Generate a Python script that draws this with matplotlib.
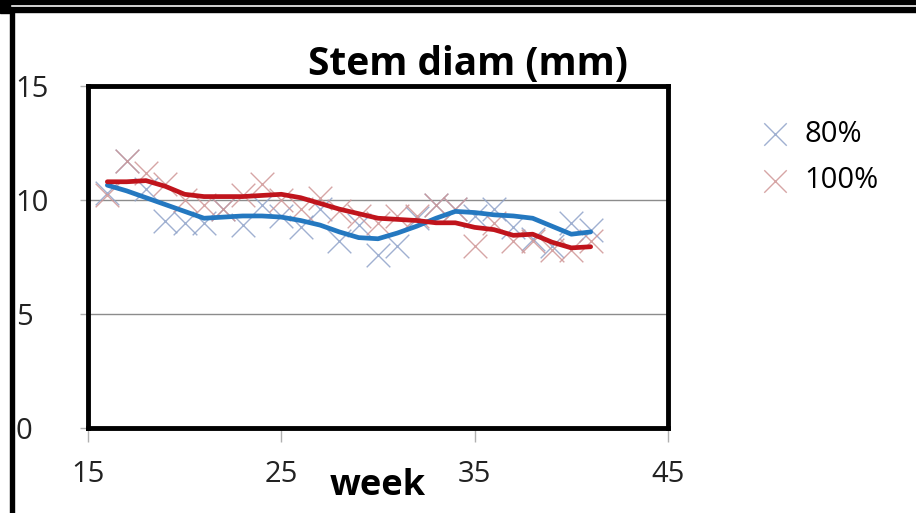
import matplotlib
matplotlib.use("Agg")
import matplotlib.pyplot as plt
from matplotlib.patches import Rectangle

weeks = list(range(16, 42))
diam_80 = [10.3, 11.7, 10.5, 9.1, 9.0, 9.0, 9.6, 8.9, 9.8, 9.3, 8.8, 9.6, 8.2,
           8.9, 7.6, 8.0, 9.2, 9.8, 9.6, 9.3, 9.6, 8.8, 8.3, 8.0, 9.0, 8.7]
diam_100 = [10.2, 11.7, 11.2, 10.7, 10.0, 9.8, 9.6, 10.2, 10.7, 10.0, 9.6, 10.1, 9.5,
            9.3, 9.0, 9.3, 9.3, 9.8, 9.6, 8.0, 9.0, 8.2, 8.2, 7.8, 7.8, 8.2]
trend_80 = [10.65, 10.4, 10.1, 9.8, 9.5, 9.2, 9.25, 9.3, 9.3, 9.25, 9.1, 8.9, 8.6,
            8.35, 8.3, 8.55, 8.85, 9.2, 9.5, 9.45, 9.35, 9.3, 9.2, 8.85, 8.5, 8.6]
trend_100 = [10.8, 10.8, 10.85, 10.6, 10.25, 10.15, 10.15, 10.15, 10.2, 10.25, 10.1, 9.85, 9.6,
             9.4, 9.2, 9.15, 9.1, 9.0, 9.0, 8.8, 8.7, 8.45, 8.5, 8.15, 7.9, 7.95]
x_ticks = [15, 25, 35, 45]
y_ticks = [0, 5, 10, 15]

plt.rcParams['font.family'] = ['Open Sans', 'DejaVu Sans']

W, H = 916, 513
fig = plt.figure(figsize=(W / 100, H / 100), dpi=100)

def fx(px):
    return px / W

def fy(py):
    return 1 - py / H

# screenshot frame
for (x0, y0, x1, y1) in [(0, 0, W, 4), (0, 0, 10, 13), (10, 7, W, 12), (10, 8, 14, H)]:
    fig.patches.append(Rectangle((fx(x0), fy(y1)), fx(x1 - x0), (y1 - y0) / H,
                                 transform=fig.transFigure, color='black', zorder=0))

ax = fig.add_axes([fx(88), fy(428), fx(668 - 88), (428 - 86) / H])
ax.set_xlim(15, 45)
ax.set_ylim(0, 15)

c80_m = '#8fa3c9'
c100_m = '#cf9696'
ax.scatter(weeks, diam_80, marker='x', s=290, linewidths=1.0, color=c80_m, alpha=0.85, zorder=3, label='80%')
ax.scatter(weeks, diam_100, marker='x', s=290, linewidths=1.0, color=c100_m, alpha=0.85, zorder=3, label='100%')
ax.plot(weeks, trend_80, color='#2478c0', lw=3.4, solid_capstyle='round', zorder=4)
ax.plot(weeks, trend_100, color='#c0141c', lw=3.4, solid_capstyle='round', zorder=4)

ax.set_xticks(x_ticks)
ax.set_yticks(y_ticks)
ax.yaxis.grid(True, color='#8c8c8c', lw=1.0)
ax.set_axisbelow(True)
for s in ax.spines.values():
    s.set_linewidth(3.5)
    s.set_color('black')
ax.tick_params(axis='x', length=10, width=1, color='#b0b0b0', pad=13, labelsize=21, labelcolor='#222222')
ax.tick_params(axis='y', length=6, width=1, color='#b0b0b0', pad=46, labelsize=21, labelcolor='#222222')
for lab in ax.get_yticklabels():
    lab.set_horizontalalignment('left')

fig.text(fx(468), fy(64), 'Stem diam (mm)', ha='center', va='center', fontsize=28, fontweight='bold')
fig.text(fx(378), fy(486), 'week', ha='center', va='center', fontsize=26, fontweight='bold')

leg = fig.legend(loc='upper left', bbox_to_anchor=(fx(734), fy(108)), frameon=False,
                 fontsize=21, handletextpad=0.0, labelspacing=0.6, markerscale=0.95, borderaxespad=0)

fig.savefig('out.png', dpi=100)
